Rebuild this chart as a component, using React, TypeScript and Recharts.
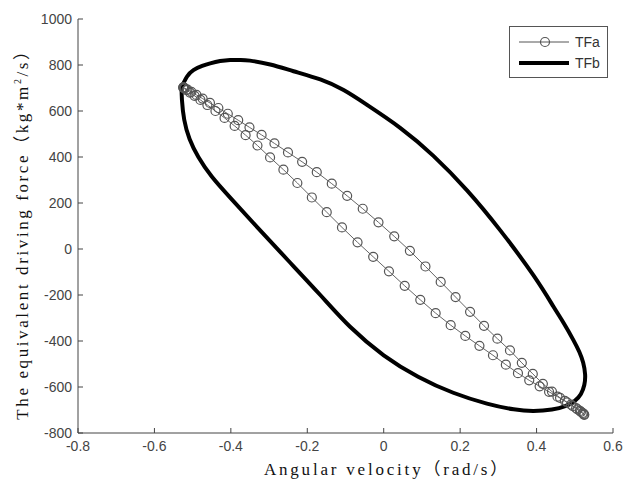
import { LineChart, Line, XAxis, YAxis } from 'recharts';

const xTicks = [-0.8, -0.6, -0.4, -0.2, 0, 0.2, 0.4, 0.6];
const yTicks = [-800, -600, -400, -200, 0, 200, 400, 600, 800, 1000];

// TFa: upper branch (top-left -> bottom-right)
const tfaUpperX = [-0.524, -0.5205, -0.5135, -0.5034, -0.4901, -0.4739, -0.4547, -0.4327, -0.408, -0.3808, -0.3513, -0.3196, -0.2859, -0.2505, -0.2135, -0.1752, -0.1359, -0.0957, -0.0549, -0.0137, 0.0275, 0.0685, 0.1092, 0.1491, 0.1881, 0.226, 0.2625, 0.2974, 0.3304, 0.3614, 0.3901, 0.4165, 0.4403, 0.4614, 0.4796, 0.4949, 0.5071, 0.5162, 0.5221, 0.5248];
const tfaUpperY = [703, 699, 693, 683, 670, 654, 635, 613, 588, 560, 529, 496, 459, 420, 379, 334, 284, 231, 175, 116, 55, -8, -76, -143, -209, -273, -334, -390, -441, -495, -543, -586, -620, -647, -667, -683, -697, -708, -716, -721];

// TFa: lower branch (bottom-right -> top-left)
const tfaLowerX = [0.5243, 0.5205, 0.5135, 0.5034, 0.4901, 0.4739, 0.4547, 0.4327, 0.408, 0.3808, 0.3513, 0.3196, 0.2859, 0.2505, 0.2135, 0.1752, 0.1359, 0.0957, 0.0549, 0.0137, -0.0275, -0.0685, -0.1092, -0.1491, -0.1881, -0.226, -0.2625, -0.2974, -0.3304, -0.3614, -0.3901, -0.4165, -0.4403, -0.4614, -0.4796, -0.4949, -0.5071, -0.5162, -0.5221, -0.5248];
const tfaLowerY = [-719, -713, -704, -692, -677, -660, -642, -621, -597, -571, -540, -503, -462, -421, -378, -331, -279, -221, -160, -97, -34, 29, 94, 160, 224, 287, 345, 398, 450, 495, 535, 570, 600, 626, 648, 666, 680, 691, 698, 702];

// TFb: closed loop, clockwise from the left corner
const tfbX = [-0.529, -0.515, -0.498, -0.475, -0.454, -0.428, -0.402, -0.376, -0.35, -0.297, -0.236, -0.166, -0.105, -0.044, 0.043, 0.13, 0.218, 0.305, 0.392, 0.444, 0.472, 0.496, 0.512, 0.522, 0.527, 0.525, 0.516, 0.5, 0.475, 0.44, 0.392, 0.34, 0.27, 0.182, 0.09, 0.0, -0.088, -0.166, -0.25, -0.33, -0.4, -0.45, -0.485, -0.508, -0.522, -0.528, -0.529];
const tfbY = [703, 749, 778, 796, 807, 817, 822, 822, 819, 802, 773, 737, 691, 627, 527, 405, 255, 81, -115, -250, -325, -395, -448, -495, -545, -590, -630, -660, -683, -698, -704, -697, -672, -625, -555, -462, -338, -200, -50, 93, 220, 315, 400, 478, 562, 648, 703];

const zip = (xs: number[], ys: number[]) => xs.map((x, i) => ({ x, y: ys[i] }));

const tfaData = [...zip(tfaUpperX, tfaUpperY), ...zip(tfaLowerX, tfaLowerY)];
tfaData.push(tfaData[0]);
const tfbData = zip(tfbX, tfbY);

const tickStyle = { fill: '#444', fontSize: 14, fontFamily: 'Liberation Sans, Arial, sans-serif' };
const labelFont = '"Liberation Serif", "Noto Sans CJK SC", serif';

export default function App() {
  return (
    <div style={{ position: 'relative', width: 630, height: 478, background: '#fff' }}>
      <LineChart width={630} height={478} margin={{ top: 11, right: 25, left: 0, bottom: 0 }}>
        <XAxis
          type="number"
          dataKey="x"
          domain={[-0.8, 0.6]}
          ticks={xTicks}
          interval={0}
          allowDataOverflow
          height={53}
          tickSize={-5}
          tickMargin={13}
          stroke="#444"
          tick={tickStyle}
        />
        <YAxis
          type="number"
          dataKey="y"
          domain={[-800, 1000]}
          ticks={yTicks}
          interval={0}
          allowDataOverflow
          width={70}
          tickSize={-5}
          tickMargin={11}
          stroke="#444"
          tick={tickStyle}
        />
        <Line
          data={tfbData}
          dataKey="y"
          type="natural"
          stroke="#000"
          strokeWidth={4}
          strokeLinejoin="round"
          dot={false}
          isAnimationActive={false}
        />
        <Line
          data={tfaData}
          dataKey="y"
          type="linear"
          stroke="#666"
          strokeWidth={1}
          dot={{ r: 4.5, fill: 'none', stroke: '#555', strokeWidth: 1.2 }}
          isAnimationActive={false}
        />
      </LineChart>

      {/* legend */}
      <div
        style={{
          position: 'absolute', left: 501, top: 18, width: 97, height: 50,
          border: '1px solid #555', background: '#fff',
        }}
      >
        <svg width={97} height={50}>
          <line x1={9} x2={59} y1={15} y2={15} stroke="#555" strokeWidth={1} />
          <circle cx={35} cy={15} r={4.5} fill="none" stroke="#555" strokeWidth={1.2} />
          <text x={65} y={20} fontSize={14} fill="#333" fontFamily="Liberation Sans, Arial, sans-serif">TFa</text>
          <line x1={9} x2={59} y1={36} y2={36} stroke="#000" strokeWidth={4} />
          <text x={65} y={41} fontSize={14} fill="#333" fontFamily="Liberation Sans, Arial, sans-serif">TFb</text>
        </svg>
      </div>

      {/* axis titles */}
      <div
        style={{
          position: 'absolute', left: 379, top: 459, transform: 'translate(-50%, -50%)',
          whiteSpace: 'nowrap', fontFamily: labelFont, fontSize: 17, letterSpacing: 2.8, color: '#111',
        }}
      >
        Angular velocity（rad/s）
      </div>
      <div
        style={{
          position: 'absolute', left: 12, top: 222, transform: 'translate(-50%, -50%) rotate(-90deg)',
          whiteSpace: 'nowrap', fontFamily: labelFont, fontSize: 17, letterSpacing: 2.6, color: '#111',
        }}
      >
        The equivalent driving force（kg*m<sup style={{ fontSize: 10 }}>2</sup>/s）
      </div>
    </div>
  );
}
